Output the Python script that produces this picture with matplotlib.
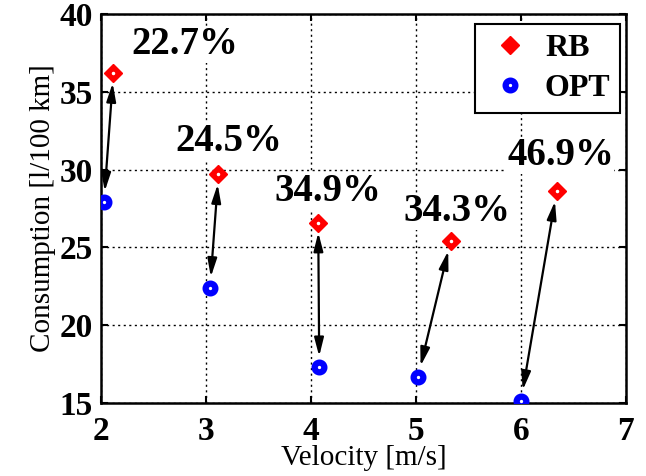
import numpy as np
import matplotlib.pyplot as plt

velocity_rb = [2.12, 3.12, 4.07, 5.33, 6.34]
consumption_rb = [36.2, 29.7, 26.6, 25.4, 28.6]
velocity_opt = [2.03, 3.04, 4.08, 5.02, 6.00]
consumption_opt = [27.9, 22.4, 17.3, 16.7, 15.15]
savings = ['22.7%', '24.5%', '34.9%', '34.3%', '46.9%']
label_x = [2.80, 3.22, 4.16, 5.39, 6.38]
label_y = [38.0, 31.8, 28.6, 27.3, 30.9]

plt.rcParams['font.family'] = ['Liberation Serif', 'DejaVu Serif']

fig = plt.figure(figsize=(6.46, 4.76), dpi=100)
ax = fig.add_axes([0.156, 0.153, 0.813, 0.818])

ax.plot(velocity_rb, consumption_rb, 'D', color='red', markersize=9,
        markeredgecolor='red', markeredgewidth=1, label='RB', zorder=4)
ax.plot(velocity_opt, consumption_opt, 'o', markerfacecolor='white',
        markeredgecolor='blue', markeredgewidth=4.5, markersize=7, label='OPT', zorder=4)
# little white dot in the diamonds
ax.plot(velocity_rb, consumption_rb, 'o', color='white', markersize=1.5, zorder=5)

for i in range(len(savings)):
    x0, y0 = velocity_rb[i], consumption_rb[i]
    x1, y1 = velocity_opt[i], consumption_opt[i]
    d = np.hypot((x1 - x0) / 5 * 525, (y1 - y0) / 25 * 389)
    t0 = 10 / d
    t1 = 11 / d
    ax.annotate('', xy=(x1 + (x0 - x1) * t1, y1 + (y0 - y1) * t1),
                xytext=(x0 + (x1 - x0) * t0, y0 + (y1 - y0) * t0),
                arrowprops=dict(arrowstyle='<|-|>,head_length=1.1,head_width=0.28',
                                color='black', lw=1.6, shrinkA=0, shrinkB=0),
                zorder=3)
    ax.text(label_x[i], label_y[i], savings[i], fontsize=28, fontweight='bold',
            ha='center', va='center', zorder=2,
            bbox=dict(facecolor='white', edgecolor='none', pad=0))

ax.set_xlim(2, 7)
ax.set_ylim(15, 40)
ax.set_xticks(range(2, 8))
ax.set_yticks(range(15, 41, 5))
ax.grid(True, linestyle=(0, (1.5, 2.5)), color='black', linewidth=1.0)
ax.set_axisbelow(True)
ax.tick_params(labelsize=24, direction='in', length=5, width=1.5, top=True, right=True, pad=6)
ax.tick_params(axis='x', pad=9)
for lbl in ax.get_xticklabels() + ax.get_yticklabels():
    lbl.set_fontweight('bold')
for sp in ax.spines.values():
    sp.set_linewidth(1.8)

ax.set_xlabel('Velocity [m/s]', fontsize=21, labelpad=-1)
ax.set_ylabel('Consumption [l/100 km]', fontsize=21, labelpad=2)

leg = ax.legend(loc='upper right', prop={'weight': 'bold', 'size': 23},
                fancybox=False, edgecolor='black', framealpha=1,
                handletextpad=0.3, handlelength=1.6, borderpad=0.3, labelspacing=0.35,
                borderaxespad=0, bbox_to_anchor=(0.989, 0.974))
leg.get_frame().set_linewidth(1.5)

fig.savefig('out.png', dpi=100)
